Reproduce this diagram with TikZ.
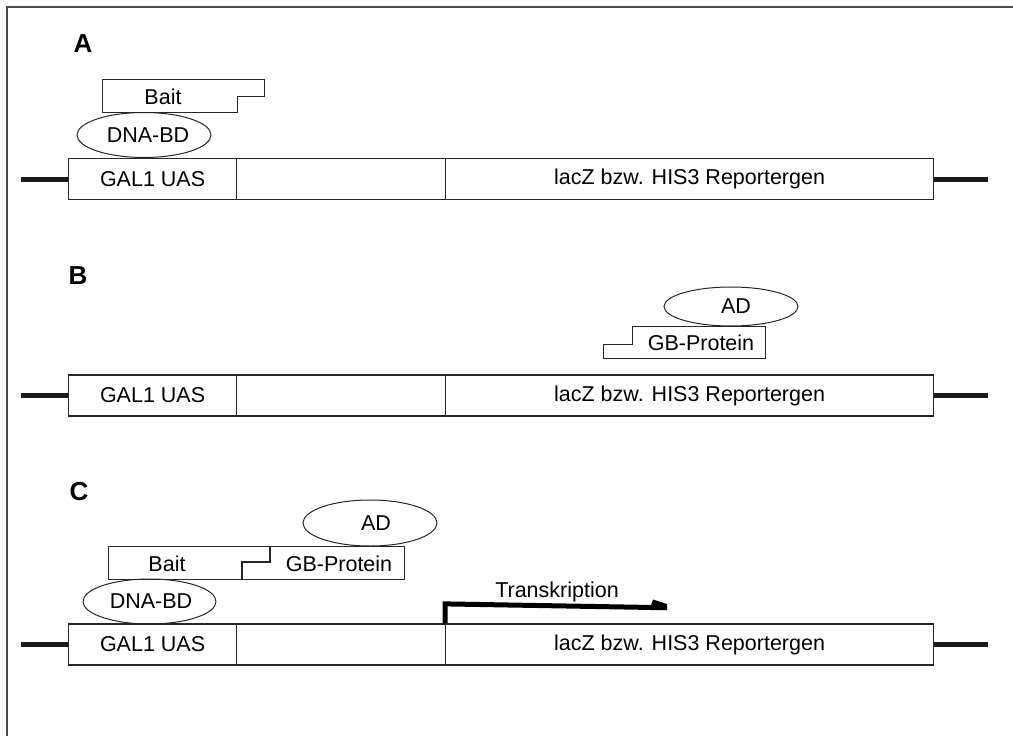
\documentclass[tikz,border=0pt]{standalone}
\usepackage{fontspec}
\setmainfont{Liberation Sans}
\usetikzlibrary{shapes.geometric}
\newcommand\generow[2]{%
  \node[genebox, minimum width=168pt, anchor=west] (#1uas) at (68,#2) {GAL1 UAS};
  \node[genebox, minimum width=209pt, anchor=west] (#1mid) at (236,#2) {};
  \node[genebox, minimum width=488pt, anchor=west] (#1lac) at (445,#2) {lacZ bzw. HIS3 Reportergen};
  \coordinate (#1l) at (21,#2);
  \coordinate (#1r) at (988,#2);
  \draw[dna] (#1l) -- (#1uas.west);
  \draw[dna] (#1lac.east) -- (#1r);
}
\begin{document}
\begin{tikzpicture}[x=1pt,y=-1pt,
  txt/.style={font=\fontsize{21.5}{25}\selectfont, inner sep=0pt},
  genebox/.style={draw=black!85, line width=1.2pt, minimum height=41pt, inner sep=0pt, font=\fontsize{21.5}{25}\selectfont},
  dna/.style={line width=5pt, black!90},
  prot/.style={draw=black!85, line width=1pt, fill=white},
  ell/.style={ellipse, draw=black!85, line width=1pt, inner sep=0pt, font=\fontsize{21.5}{25}\selectfont},
  panel/.style={font=\fontsize{26}{30}\selectfont\bfseries, inner sep=0pt},
  frame/.style={line width=1.5pt, black!70},
  tsline/.style={line width=5pt, black}
]
\useasboundingbox (0,0) rectangle (1013,736);
\draw[frame] (7,736) -- (7,7) -- (1013,7);

% Panel A
\node[panel] (labA) at (83,44) {A};
\draw[prot] (102,79) -- (264,79) -- (264,96) -- (237,96) -- (237,112) -- (102,112) -- cycle;
\node[txt] (baitA) at (163,97) {Bait};
\node[ell, minimum width=134pt, minimum height=45pt] (dnabdA) at (144,135) {\hspace*{8pt}DNA-BD};
\generow{A}{179}

% Panel B
\node[panel] (labB) at (78,276) {B};
\draw[prot] (603,358) -- (603,344) -- (632,344) -- (632,326) -- (765,326) -- (765,358) -- cycle;
\node[txt] (gbB) at (701,343) {GB-Protein};
\node[ell, minimum width=134pt, minimum height=39pt] (adB) at (731,306.5) {\hspace*{10pt}AD};
\generow{B}{395.5}

% Panel C
\node[panel] (labC) at (79,492) {C};
\draw[prot] (108,546) rectangle (404,579);
\draw[black!85, line width=1.6pt] (270,546) -- (270,562) -- (242,562) -- (242,579);
\node[txt] (baitC) at (167,564) {Bait};
\node[txt] (gbC) at (339,564) {GB-Protein};
\node[ell, minimum width=134pt, minimum height=46pt] (adC) at (370,523) {\hspace*{12pt}AD};
\node[ell, minimum width=133pt, minimum height=45pt] (dnabdC) at (149.5,601.5) {\hspace*{3pt}DNA-BD};
\generow{C}{644.5}

\coordinate (tsEnd) at (653,607.5);
\draw[tsline] (Clac.north west) -- ++(0,-19.5) -- (tsEnd);
\fill[black] (651,605) -- (653,599.5) -- (667,604) -- (667,610) -- (651,610) -- cycle;
\node[txt] (tsLab) at (557,592) {Transkription};
\end{tikzpicture}
\end{document}
